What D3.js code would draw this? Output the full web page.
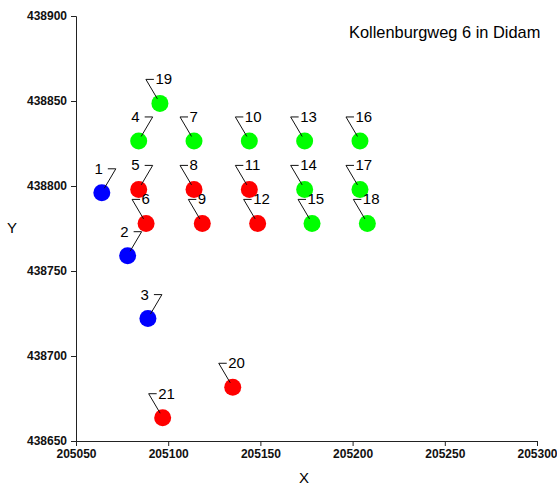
<!DOCTYPE html>
<html>
<head>
  <meta charset="utf-8">
  <script src="https://d3js.org/d3.v7.min.js"></script>
  <style>
    body { margin: 0; background: #fff; }
    text { font-family: "Liberation Sans", Arial, sans-serif; }
  </style>
</head>
<body>
<script type="text/javascript">
  // point numbers and their coordinates (RD x / y)
  var ids = [1, 2, 3, 4, 5, 6, 7, 8, 9, 10, 11, 12, 13, 14, 15, 16, 17, 18, 19, 20, 21];
  var xs = [205064, 205078, 205089, 205084, 205084, 205088, 205114, 205114, 205118.5, 205144,
            205144, 205148.5, 205174, 205174, 205178, 205204, 205204, 205208, 205095.5, 205135, 205097];
  var ys = [438796, 438759, 438722, 438826.5, 438798, 438778, 438826.5, 438798, 438778, 438826.5,
            438798, 438778, 438826.5, 438798, 438778, 438826.5, 438798, 438778, 438848.6, 438681.6, 438663.7];
  // colour group of each point
  var groups = ["blue", "blue", "blue", "green", "red", "red", "green", "red", "red", "green",
                "red", "red", "green", "green", "green", "green", "green", "green", "green", "red", "red"];
  var xTicks = [205050, 205100, 205150, 205200, 205250, 205300];
  var yTicks = [438650, 438700, 438750, 438800, 438850, 438900];
  var title = "Kollenburgweg 6 in Didam";

  var colors = { blue: "#0000ff", red: "#ff0000", green: "#00ff00" };
  // these labels sit on the left of their leader line
  var leftLabels = [1, 2, 3, 4, 5];

  var width = 557, height = 485;
  var margin = { left: 76, right: 20, top: 16, bottom: 44 };

  var svg = d3.select("body").append("svg")
    .attr("width", width)
    .attr("height", height);

  var x = d3.scaleLinear().domain([205050, 205300]).range([margin.left, width - margin.right]);
  var y = d3.scaleLinear().domain([438650, 438900]).range([height - margin.bottom, margin.top]);

  // axes
  var xAxis = svg.append("g")
    .attr("transform", "translate(0," + (height - margin.bottom) + ")")
    .call(d3.axisBottom(x).tickValues(xTicks).tickFormat(d3.format("d")).tickSizeOuter(0).tickSize(5));
  var yAxis = svg.append("g")
    .attr("transform", "translate(" + margin.left + ",0)")
    .call(d3.axisLeft(y).tickValues(yTicks).tickFormat(d3.format("d")).tickSizeOuter(0).tickSize(5));

  [xAxis, yAxis].forEach(function (g) {
    g.select(".domain").attr("stroke", "#222");
    g.selectAll(".tick line").attr("stroke", "#222");
    g.selectAll(".tick text")
      .attr("fill", "#111")
      .style("font-family", "'Liberation Sans', Arial, sans-serif")
      .style("font-size", "12px")
      .style("font-weight", "bold");
  });
  yAxis.selectAll(".tick text").attr("x", -9);
  xAxis.selectAll(".tick text").attr("y", 8);

  svg.append("text")
    .attr("x", 12).attr("y", 233)
    .attr("text-anchor", "middle")
    .style("font-size", "15px")
    .text("Y");
  svg.append("text")
    .attr("x", 304).attr("y", 483)
    .attr("text-anchor", "middle")
    .style("font-size", "15px")
    .text("X");

  svg.append("text")
    .attr("x", 349).attr("y", 38)
    .style("font-size", "16.4px")
    .text(title);

  var data = ids.map(function (id, i) {
    return { id: id, x: xs[i], y: ys[i], group: groups[i], left: leftLabels.indexOf(id) >= 0 };
  });

  // points
  svg.selectAll("circle.pt")
    .data(data)
    .enter()
    .append("circle")
      .attr("class", "pt")
      .attr("cx", function (d) { return x(d.x); })
      .attr("cy", function (d) { return y(d.y); })
      .attr("r", 8.5)
      .attr("fill", function (d) { return colors[d.group]; });

  // leader lines and labels
  var lab = svg.selectAll("g.lab")
    .data(data)
    .enter()
    .append("g")
      .attr("class", "lab")
      .attr("transform", function (d) { return "translate(" + x(d.x) + "," + y(d.y) + ")"; });

  lab.append("path")
    .attr("fill", "none")
    .attr("stroke", "#111")
    .attr("stroke-width", 1)
    .attr("d", function (d) {
      var s = d.left ? 1 : -1;
      return "M" + (s * 2.5) + ",-4.5L" + (s * 14) + ",-24L" + (s * 6) + ",-24";
    });

  lab.append("text")
    .attr("x", function (d) { return d.left ? 1 : -4.5; })
    .attr("y", -19)
    .attr("text-anchor", function (d) { return d.left ? "end" : "start"; })
    .style("font-size", "15px")
    .text(function (d) { return d.id; });
</script>
</body>
</html>
